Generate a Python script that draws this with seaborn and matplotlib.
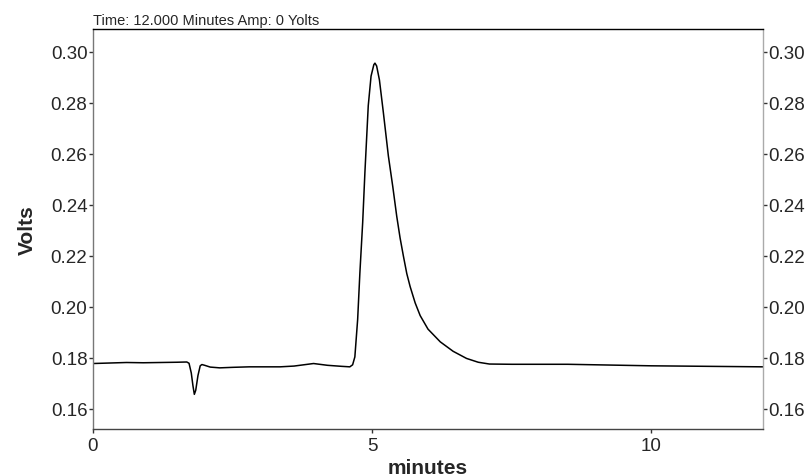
import pandas as pd
import matplotlib
matplotlib.use("Agg")
import matplotlib.pyplot as plt
import seaborn as sns

# Chromatogram trace (minutes, volts)
time_min = [0.00, 0.30, 0.60, 0.90, 1.20, 1.50, 1.68, 1.72, 1.76, 1.79, 1.815, 1.84,
            1.88, 1.92, 1.95, 2.00, 2.10, 2.27, 2.50, 2.80, 3.10, 3.35, 3.60, 3.95,
            4.20, 4.45, 4.60, 4.65, 4.69, 4.74, 4.78, 4.83, 4.87, 4.93, 4.98, 5.03,
            5.05, 5.08, 5.13, 5.20, 5.29, 5.37, 5.44, 5.50, 5.56, 5.62, 5.68, 5.77,
            5.86, 6.00, 6.22, 6.45, 6.69, 6.90, 7.10, 7.50, 8.00, 8.50, 9.00, 9.50,
            10.00, 10.50, 11.00, 11.50, 12.00]
volts = [0.1777, 0.1779, 0.1781, 0.1780, 0.1781, 0.1782, 0.1783, 0.1778, 0.1740, 0.1690,
         0.1656, 0.1672, 0.1730, 0.1768, 0.1773, 0.1770, 0.1763, 0.1760, 0.1762, 0.1764,
         0.1764, 0.1764, 0.1767, 0.1777, 0.1770, 0.1766, 0.1764, 0.1772, 0.1803, 0.1950,
         0.2133, 0.2330, 0.2527, 0.2789, 0.2905, 0.2950, 0.2956, 0.2945, 0.2890, 0.2763,
         0.2592, 0.2470, 0.2355, 0.2270, 0.2198, 0.2130, 0.2079, 0.2015, 0.1965, 0.1912,
         0.1862, 0.1825, 0.1797, 0.1782, 0.1775, 0.1774, 0.1774, 0.1774, 0.1772, 0.1770,
         0.1768, 0.1767, 0.1766, 0.1765, 0.1764]

df = pd.DataFrame({"minutes": time_min, "Volts": volts})

sns.set_style("white")
plt.rcParams["font.family"] = ["Liberation Sans", "DejaVu Sans"]

fig = plt.figure(figsize=(8.06, 4.77), dpi=100)
ax = fig.add_axes([93 / 806, 1 - 430 / 477, 670 / 806, 400 / 477])

sns.lineplot(data=df, x="minutes", y="Volts", ax=ax, color="black",
             linewidth=1.1, estimator=None)

ax.set_xlim(0, 12)
ax.set_ylim(0.152, 0.309)
ax.set_xticks([0, 5, 10])
ax.set_yticks([0.16, 0.18, 0.20, 0.22, 0.24, 0.26, 0.28, 0.30])
ax.set_yticklabels([f"{v:.2f}" for v in ax.get_yticks()])

ax.tick_params(axis="y", which="both", left=True, right=True, labelleft=True,
               labelright=True, direction="out", length=3, width=1,
               labelsize=13.5, pad=1, color="#333333")
ax.tick_params(axis="x", bottom=True, direction="out", length=3, width=1,
               labelsize=13.5, pad=3, color="#333333")

ax.spines["top"].set_color("black")
ax.spines["left"].set_color("#777777")
ax.spines["right"].set_color("#aaaaaa")
ax.spines["bottom"].set_color("#444444")
for s in ax.spines.values():
    s.set_linewidth(1.0)

ax.set_xlabel("minutes", fontsize=15, fontweight="bold", labelpad=3)
ax.set_ylabel("Volts", fontsize=15, fontweight="bold", labelpad=10)

fig.text(93 / 806, 1 - 25 / 477, "Time: 12.000 Minutes Amp: 0 Yolts",
         fontsize=10.5, ha="left", va="baseline")

fig.savefig("out.png", dpi=100)
